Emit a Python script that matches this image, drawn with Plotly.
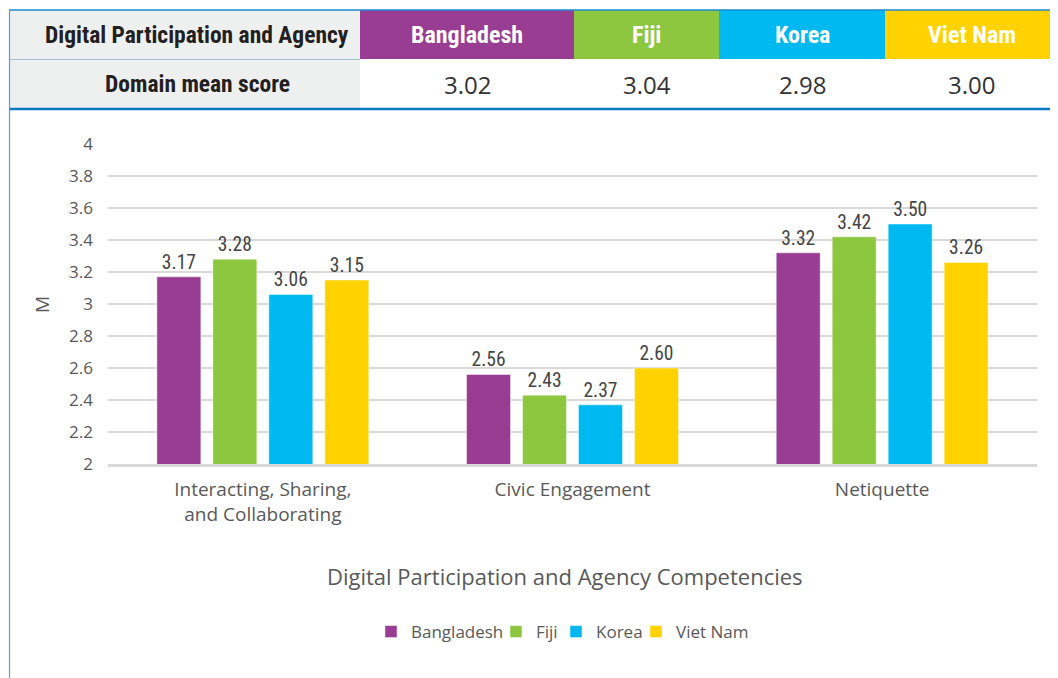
import plotly.graph_objects as go

# ---------------- data ----------------
categories = ["Interacting, Sharing,<br>and Collaborating", "Civic Engagement", "Netiquette"]
countries = ["Bangladesh", "Fiji", "Korea", "Viet Nam"]
bangladesh = [3.17, 2.56, 3.32]
fiji = [3.28, 2.43, 3.42]
korea = [3.06, 2.37, 3.50]
viet_nam = [3.15, 2.60, 3.26]
domain_scores = ["3.02", "3.04", "2.98", "3.00"]
table_title = "Digital Participation and Agency"
table_row_label = "Domain mean score"
y_ticks = [2, 2.2, 2.4, 2.6, 2.8, 3, 3.2, 3.4, 3.6, 3.8, 4]
y_tick_text = ["2", "2.2", "2.4", "2.6", "2.8", "3", "3.2", "3.4", "3.6", "3.8", "4"]
x_title = "Digital Participation and Agency Competencies"
y_title = "M"

colors = ["#983d91", "#8dc63f", "#00b9f1", "#ffd200"]
series = [bangladesh, fiji, korea, viet_nam]

# page body has an 8px margin; layout below is expressed in window pixels
OFF = 8
W, H = 1058 - OFF, 678 - OFF
PLOT_L, PLOT_R, PLOT_T, PLOT_B = 108, 1037, 144, 464   # window pixels
L = PLOT_L - OFF
T = PLOT_T - OFF
R = (W + OFF) - PLOT_R
B = (H + OFF) - PLOT_B
PW, PH = PLOT_R - PLOT_L, PLOT_B - PLOT_T

def px(x):
    return (x - PLOT_L) / PW

def py(y):
    return (PLOT_B - y) / PH

COND = "Noto Sans Condensed, Roboto Condensed, Liberation Sans Narrow, Roboto, sans-serif"
REG = "Open Sans, Noto Sans, sans-serif"

legend_ids = ["legend", "legend2", "legend3", "legend4"]
legend_left = [385, 510, 570, 650]   # window px of each legend square

fig = go.Figure()
for name, vals, col, lid in zip(countries, series, colors, legend_ids):
    fig.add_trace(go.Bar(
        name=name, x=categories, y=vals, legend=lid,
        marker=dict(color=col, line=dict(width=0.8, color="rgba(255,255,255,0.6)")),
        text=[f"{v:.2f}" for v in vals], textposition="outside",
        textfont=dict(family=COND, size=19.5, color="#454545", weight=400),
        cliponaxis=False,
    ))

shapes = []
annotations = []

col_edges = [10, 360, 574, 719, 885, 1058]
shapes.append(dict(type="rect", xref="paper", yref="paper", x0=px(10), x1=px(360),
                   y0=py(59), y1=py(10), fillcolor="#eeefef", line=dict(width=0), layer="above"))
shapes.append(dict(type="rect", xref="paper", yref="paper", x0=px(10), x1=px(360),
                   y0=py(108), y1=py(60), fillcolor="#eeefef", line=dict(width=0), layer="above"))
for i, (c, col) in enumerate(zip(countries, colors)):
    x0, x1 = col_edges[i + 1], col_edges[i + 2]
    shapes.append(dict(type="rect", xref="paper", yref="paper", x0=px(x0), x1=px(x1),
                       y0=py(59), y1=py(10), fillcolor=col, line=dict(width=0), layer="above"))
    annotations.append(dict(xref="paper", yref="paper", x=px((x0 + x1) / 2), y=py(35),
                            text=f"<b>{c}</b>", showarrow=False, xanchor="center", yanchor="middle",
                            font=dict(family=COND, size=24, color="white")))
    annotations.append(dict(xref="paper", yref="paper", x=px((x0 + x1) / 2), y=py(84),
                            text=domain_scores[i], showarrow=False, xanchor="center", yanchor="middle",
                            font=dict(family=REG, size=24, color="#333333")))

annotations.append(dict(xref="paper", yref="paper", x=px(197), y=py(35),
                        text=f"<b>{table_title}</b>", showarrow=False, xanchor="center", yanchor="middle",
                        font=dict(family=COND, size=23.5, color="#231f20")))
annotations.append(dict(xref="paper", yref="paper", x=px(197), y=py(84),
                        text=f"<b>{table_row_label}</b>", showarrow=False, xanchor="center", yanchor="middle",
                        font=dict(family=COND, size=23.5, color="#231f20")))

shapes.append(dict(type="line", xref="paper", yref="paper", x0=px(9), x1=px(1058),
                   y0=py(10), y1=py(10), line=dict(color="#1a8ad4", width=1.5), layer="above"))
shapes.append(dict(type="line", xref="paper", yref="paper", x0=px(9), x1=px(1058),
                   y0=py(109), y1=py(109), line=dict(color="#0a7bc2", width=2.5), layer="above"))
shapes.append(dict(type="line", xref="paper", yref="paper", x0=px(10), x1=px(360),
                   y0=py(59.5), y1=py(59.5), line=dict(color="#9fbfd8", width=1), layer="above"))
shapes.append(dict(type="line", xref="paper", yref="paper", x0=px(9.5), x1=px(9.5),
                   y0=py(10), y1=py(678), line=dict(color="#5b9bd5", width=1.2), layer="above"))

annotations.append(dict(xref="paper", yref="paper", x=px(565), y=py(576), text=x_title,
                        showarrow=False, xanchor="center", yanchor="middle",
                        font=dict(family=REG, size=22, color="#595959")))
annotations.append(dict(xref="paper", yref="paper", x=px(42), y=py(305), text=y_title,
                        showarrow=False, xanchor="center", yanchor="middle", textangle=-90,
                        font=dict(family=REG, size=19, color="#595959")))

legend_kw = {}
for lid, lx in zip(legend_ids, legend_left):
    legend_kw[lid] = dict(orientation="h", x=px(lx - 14), xanchor="left", y=py(632), yanchor="middle",
                          font=dict(family=REG, size=17, color="#595959"), itemwidth=30,
                          bgcolor="rgba(0,0,0,0)")

fig.update_layout(
    width=W, height=H,
    margin=dict(l=L, r=R, t=T, b=B, pad=0),
    paper_bgcolor="white", plot_bgcolor="white",
    barmode="group", bargap=0.277, bargroupgap=0.214,
    showlegend=True,
    shapes=shapes, annotations=annotations,
    xaxis=dict(showgrid=False, showline=True, linecolor="#d9d9d9", linewidth=3,
               tickfont=dict(family=REG, size=19, color="#595959"), ticks="outside",
               ticklen=6, tickcolor="rgba(0,0,0,0)"),
    yaxis=dict(range=[2, 4], tickvals=y_ticks, ticktext=y_tick_text, showgrid=True,
               gridcolor="#d9d9d9", gridwidth=1.5, zeroline=False, showline=False,
               tickfont=dict(family=REG, size=17, color="#595959"), ticklabelstandoff=14),
    **legend_kw,
)

fig.write_html("out.html")
